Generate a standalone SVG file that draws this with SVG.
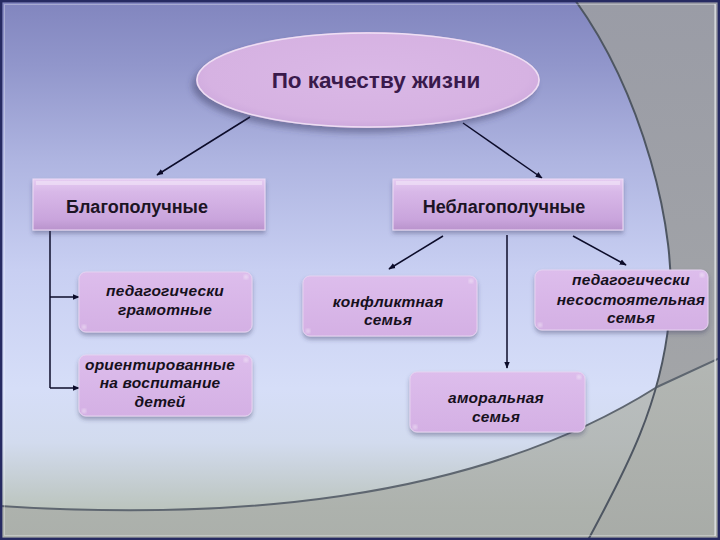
<svg xmlns="http://www.w3.org/2000/svg" width="720" height="540" viewBox="0 0 720 540">
<defs>
<linearGradient id="bg" x1="0" y1="0" x2="0" y2="540" gradientUnits="userSpaceOnUse">
<stop offset="0" stop-color="#8185be"/>
<stop offset="0.12" stop-color="#9196cb"/>
<stop offset="0.3" stop-color="#afb5e1"/>
<stop offset="0.5" stop-color="#c8cff2"/>
<stop offset="0.72" stop-color="#d6def8"/>
<stop offset="0.82" stop-color="#d2dbee"/>
<stop offset="0.94" stop-color="#bcc5bf"/>
</linearGradient>
<linearGradient id="bottomG" x1="0" y1="360" x2="0" y2="540" gradientUnits="userSpaceOnUse">
<stop offset="0" stop-color="#b6bab6"/>
<stop offset="1" stop-color="#a8aca7"/>
</linearGradient>
<linearGradient id="bandG" x1="0" y1="0" x2="0" y2="540" gradientUnits="userSpaceOnUse">
<stop offset="0" stop-color="#9a9ca6"/>
<stop offset="1" stop-color="#a6a8a8"/>
</linearGradient>
<linearGradient id="headG" x1="0" y1="0" x2="0" y2="1">
<stop offset="0" stop-color="#e6cdf2"/>
<stop offset="0.25" stop-color="#d8b8e8"/>
<stop offset="0.8" stop-color="#c9a4dc"/>
<stop offset="1" stop-color="#b993cc"/>
</linearGradient>
<linearGradient id="subG" x1="0" y1="0" x2="0" y2="1">
<stop offset="0" stop-color="#ddbdec"/>
<stop offset="1" stop-color="#d4b0e4"/>
</linearGradient>
<radialGradient id="ellG" cx="0.5" cy="0.45" r="0.55">
<stop offset="0" stop-color="#dab8e6"/>
<stop offset="0.85" stop-color="#d6b2e2"/>
<stop offset="1" stop-color="#cda8dc"/>
</radialGradient>
<filter id="sh" x="-10%" y="-20%" width="120%" height="150%">
<feDropShadow dx="0" dy="3" stdDeviation="2" flood-color="#3a3a60" flood-opacity="0.4"/>
</filter>
<filter id="shE" x="-10%" y="-20%" width="120%" height="150%">
<feDropShadow dx="-4" dy="5" stdDeviation="3" flood-color="#3a3a60" flood-opacity="0.45"/>
</filter>
<filter id="blur"><feGaussianBlur stdDeviation="1"/></filter>
<marker id="ah" viewBox="0 0 10 10" refX="9" refY="5" markerWidth="7" markerHeight="7" markerUnits="userSpaceOnUse" orient="auto">
<path d="M0,1 L10,5 L0,9 Z" fill="#0c0c2a"/>
</marker>
<style>
.hdr{font-family:"Liberation Sans",Arial,sans-serif;font-weight:bold;font-size:18px;fill:#1c1424;text-anchor:middle}
.ttl{font-family:"Liberation Sans",Arial,sans-serif;font-weight:bold;font-size:22.5px;fill:#3a1a4c;text-anchor:middle}
.sub{font-family:"Liberation Sans",Arial,sans-serif;font-weight:bold;font-style:italic;font-size:15.5px;fill:#16101c;text-anchor:middle;letter-spacing:0.2px}
.line{stroke:#0c0c2a;stroke-width:1.5;fill:none}
.arr{stroke:#0c0c2a;stroke-width:1.5;fill:none;marker-end:url(#ah)}
.box{fill:url(#subG);stroke:#e6d2f0;stroke-width:1;filter:url(#sh)}
.head{fill:url(#headG);stroke:#eedcf6;stroke-width:1;filter:url(#sh)}
.glint{fill:#ffffff;opacity:0.35;filter:url(#blur)}
</style>
</defs>

<!-- background -->
<rect x="0" y="0" width="720" height="540" fill="url(#bg)"/>
<path d="M575,0 L720,0 L720,540 L588,540 C620,480 660,410 669,320 C680,230 640,90 575,0 Z" fill="url(#bandG)"/>
<path d="M0,506 C220,520 470,505 657,387 L720,358 L720,540 L0,540 Z" fill="url(#bottomG)" opacity="0.85"/>
<path d="M0,506 C220,520 470,505 657,387 L720,358" fill="none" stroke="#5e6670" stroke-width="2"/>
<path d="M575,0 C640,90 680,230 669,320 C660,410 620,480 588,540" fill="none" stroke="#4e5662" stroke-width="2"/>
<line x1="715" y1="4" x2="715" y2="536" stroke="#d8dce0" stroke-width="1.2"/>
<rect x="4.5" y="4.5" width="711" height="531" fill="none" stroke="#ffffff" stroke-opacity="0.3" stroke-width="1"/>
<rect x="1.2" y="1.2" width="717.6" height="537.6" fill="none" stroke="#262a62" stroke-width="2.4"/>

<!-- connectors -->
<g id="connectors">
<line class="arr" x1="250" y1="117" x2="157" y2="175"/>
<line class="arr" x1="463" y1="123" x2="542" y2="178"/>
<line class="line" x1="50" y1="231" x2="50" y2="388"/>
<line class="arr" x1="50" y1="297" x2="79" y2="297"/>
<line class="arr" x1="50" y1="388" x2="79" y2="388"/>
<line class="arr" x1="443" y1="236" x2="389" y2="269"/>
<line class="arr" x1="507" y1="235" x2="507" y2="368"/>
<line class="arr" x1="573" y1="236" x2="626" y2="265"/>
</g>

<!-- root -->
<g id="root">
<ellipse cx="368" cy="80" rx="172" ry="48" fill="url(#ellG)" filter="url(#shE)"/>
<ellipse cx="368" cy="80" rx="171" ry="47" fill="none" stroke="#f4eaf8" stroke-width="1.5" stroke-opacity="0.8"/>
<text class="ttl" x="376" y="88">По качеству жизни</text>
</g>

<!-- level 1 -->
<g id="blago">
<rect class="head" x="33" y="179" width="232" height="51"/>
<rect x="36" y="181" width="226" height="4" fill="#f2e6f8" opacity="0.6"/>
<text class="hdr" x="137" y="213">Благополучные</text>
</g>
<g id="neblago">
<rect class="head" x="393" y="179" width="230" height="51"/>
<rect x="396" y="181" width="224" height="4" fill="#f2e6f8" opacity="0.6"/>
<text class="hdr" x="504" y="213">Неблагополучные</text>
</g>

<!-- level 2 left -->
<g id="gramotnye">
<rect class="box" x="79" y="272" width="173" height="60" rx="7"/>
<circle class="glint" cx="246" cy="277" r="2.5"/>
<circle class="glint" cx="84" cy="327" r="2.5"/>
<text class="sub" x="165" y="296">педагогически</text>
<text class="sub" x="165" y="315">грамотные</text>
</g>
<g id="orientirovannye">
<rect class="box" x="79" y="355" width="173" height="61" rx="7"/>
<circle class="glint" cx="246" cy="360" r="2.5"/>
<circle class="glint" cx="84" cy="411" r="2.5"/>
<text class="sub" x="160" y="370">ориентированные</text>
<text class="sub" x="160" y="388">на воспитание</text>
<text class="sub" x="160" y="407">детей</text>
</g>

<!-- level 2 right -->
<g id="konflikt">
<rect class="box" x="303" y="276" width="174" height="60" rx="7"/>
<circle class="glint" cx="471" cy="281" r="2.5"/>
<circle class="glint" cx="308" cy="331" r="2.5"/>
<text class="sub" x="388" y="307">конфликтная</text>
<text class="sub" x="388" y="325">семья</text>
</g>
<g id="amoral">
<rect class="box" x="410" y="372" width="175" height="60" rx="7"/>
<circle class="glint" cx="579" cy="377" r="2.5"/>
<circle class="glint" cx="415" cy="427" r="2.5"/>
<text class="sub" x="496" y="403">аморальная</text>
<text class="sub" x="496" y="422">семья</text>
</g>
<g id="nesostoyat">
<rect class="box" x="535" y="270" width="173" height="60" rx="7"/>
<circle class="glint" cx="702" cy="275" r="2.5"/>
<circle class="glint" cx="540" cy="325" r="2.5"/>
<text class="sub" x="631" y="285">педагогически</text>
<text class="sub" x="631" y="305">несостоятельная</text>
<text class="sub" x="631" y="323">семья</text>
</g>
</svg>
